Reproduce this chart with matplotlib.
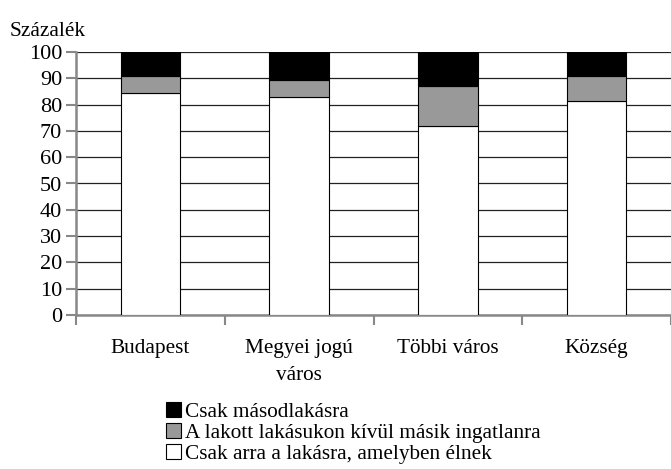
import matplotlib.pyplot as plt
from matplotlib.patches import Patch
import numpy as np

plt.rcParams['font.family'] = ['Liberation Serif', 'DejaVu Serif']

# data (percent)
categories = ["Budapest", "Megyei jogú\nváros", "Többi város", "Község"]
only_home = [84.6, 82.9, 71.7, 81.3]
other_property = [6.1, 6.6, 15.2, 9.7]
only_second = [9.3, 10.5, 13.1, 9.0]

series_labels = [
    "Csak másodlakásra",
    "A lakott lakásukon kívül másik ingatlanra",
    "Csak arra a lakásra, amelyben élnek",
]
colors = ["#000000", "#999999", "#ffffff"]
FS = 15.3

fig = plt.figure(figsize=(6.71, 4.69), dpi=100)
ax = fig.add_axes([76 / 671, 1 - 315 / 469, 1 - 76 / 671, (315 - 52) / 469])

x = np.arange(len(categories))
w = 0.4
ax.bar(x, only_home, w, color=colors[2], edgecolor="black", linewidth=0.8, zorder=3)
ax.bar(x, other_property, w, bottom=only_home, color=colors[1],
       edgecolor="black", linewidth=0.8, zorder=3)
bottom2 = np.array(only_home) + np.array(other_property)
ax.bar(x, only_second, w, bottom=bottom2, color=colors[0],
       edgecolor="black", linewidth=0.8, zorder=3)

ax.set_ylim(0, 100)
ax.set_xlim(-0.5, -0.5 + (671 - 76) / 150.3)
ax.set_yticks(range(0, 101, 10))
ax.yaxis.grid(True, color="#222222", linewidth=0.9, zorder=0)
ax.set_axisbelow(True)

# boundary ticks without labels, category names on minor ticks
ax.set_xticks(np.arange(-0.5, len(categories), 1.0))
ax.set_xticklabels([])
ax.set_xticks(x, minor=True)
ax.set_xticklabels(categories, minor=True, fontsize=FS, linespacing=1.6, va="top")
ax.tick_params(axis="x", which="minor", length=0, pad=17)
ax.tick_params(axis="x", which="major", length=7, width=1.5, color="#888888", direction="out")
ax.tick_params(axis="y", length=7, width=1.5, color="#888888", labelsize=16, pad=3)

for side in ["top", "right"]:
    ax.spines[side].set_visible(False)
for side in ["left", "bottom"]:
    ax.spines[side].set_color("#888888")
    ax.spines[side].set_linewidth(1.8)

fig.text(10 / 671, 1 - 31 / 469, "Százalék", fontsize=FS, va="center", ha="left")

handles = [Patch(facecolor=c, edgecolor="black", linewidth=0.8) for c in colors]
fig.legend(handles, series_labels, loc="upper left", bbox_to_anchor=(166 / 671, 1 - 402 / 469),
           frameon=False, fontsize=FS, handlelength=0.7, handleheight=0.7,
           handletextpad=0.2, labelspacing=0.05, borderpad=0, borderaxespad=0)

fig.savefig("out.png", dpi=100)
